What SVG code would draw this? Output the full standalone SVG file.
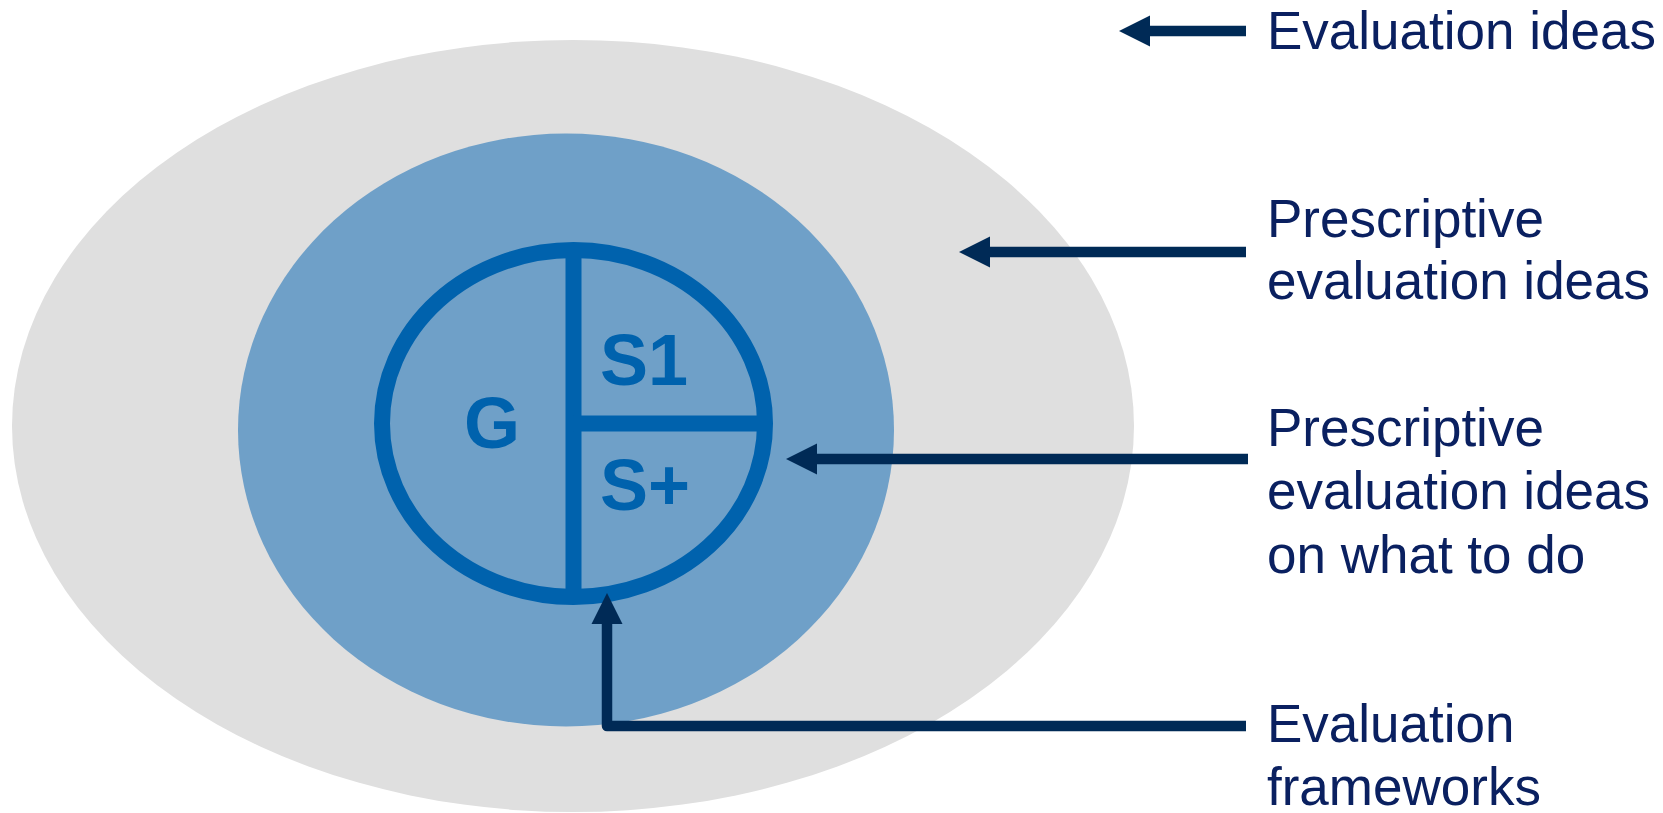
<svg xmlns="http://www.w3.org/2000/svg" width="1663" height="813" viewBox="0 0 1663 813">
<style>
.lbl{font-family:"Liberation Sans",Arial,sans-serif;font-size:53px;fill:#0A2060}
.seg{font-family:"Liberation Sans",Arial,sans-serif;font-size:72px;font-weight:bold;fill:#0062AD}
.conn{fill:none;stroke:#002A56;stroke-width:10.5;stroke-linejoin:round;marker-end:url(#head)}
.ringline{fill:none;stroke:#0062AD;stroke-width:16}
</style>
<defs>
<marker id="head" markerUnits="userSpaceOnUse" markerWidth="32" markerHeight="32" refX="0" refY="15.5" orient="auto" viewBox="0 0 32 31">
<path d="M0,0 L31,15.5 L0,31 Z" fill="#002A56"/>
</marker>
</defs>
<rect width="1663" height="813" fill="#FFFFFF"/>
<g id="outer">
<ellipse cx="573" cy="426" rx="561" ry="386" fill="#DFDFDF"/>
</g>
<g id="middle">
<ellipse cx="566" cy="430" rx="328" ry="296.5" fill="#6FA0C8"/>
</g>
<g id="core">
<ellipse class="ringline" cx="573.5" cy="423.5" rx="191.5" ry="173.5"/>
<line class="ringline" x1="573.5" y1="250" x2="573.5" y2="597"/>
<line class="ringline" x1="573.5" y1="423.5" x2="765" y2="423.5"/>
<text class="seg" x="492" y="448" text-anchor="middle">G</text>
<text class="seg" x="600" y="385">S1</text>
<text class="seg" x="600" y="510">S+</text>
</g>
<g id="connectors">
<path class="conn" d="M1246,31 H1150"/>
<path class="conn" d="M1246,252 H990"/>
<path class="conn" d="M1248,459 H817"/>
<path class="conn" d="M1246,726 H607 V624"/>
</g>
<g id="label-evaluation-ideas">
<text class="lbl" x="1267" y="49">Evaluation ideas</text>
</g>
<g id="label-prescriptive">
<text class="lbl" x="1267" y="237">Prescriptive</text>
<text class="lbl" x="1267" y="299">evaluation ideas</text>
</g>
<g id="label-what-to-do">
<text class="lbl" x="1267" y="446">Prescriptive</text>
<text class="lbl" x="1267" y="509">evaluation ideas</text>
<text class="lbl" x="1267" y="573">on what to do</text>
</g>
<g id="label-frameworks">
<text class="lbl" x="1267" y="742">Evaluation</text>
<text class="lbl" x="1267" y="805">frameworks</text>
</g>
</svg>
